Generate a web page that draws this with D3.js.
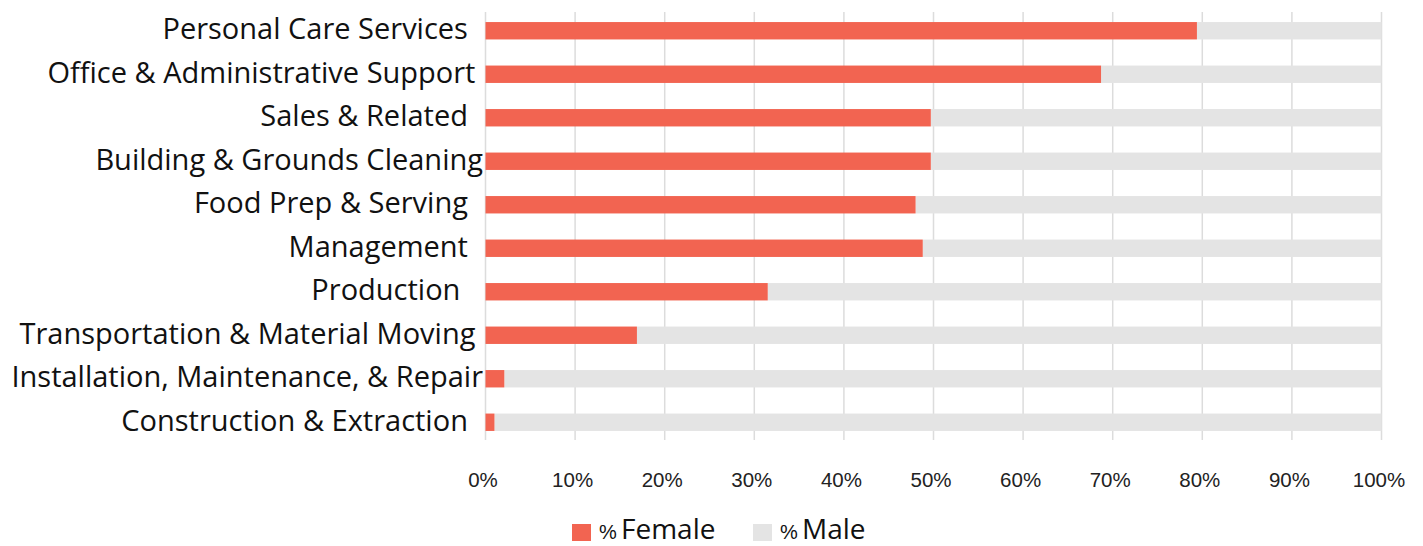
<!DOCTYPE html>
<html>
<head>
<meta charset="utf-8">
<script src="https://cdn.jsdelivr.net/npm/d3@7"></script>
<style>
    body { margin: 0; background: #fff; }
    svg { display: block; }
    .label { font-family: "Open Sans", sans-serif; font-size: 29px; fill: #111; white-space: pre; }
    .tick text { font-family: "Liberation Sans", Arial, sans-serif; font-size: 20.5px; fill: #222; }
</style>
</head>
<body>
<svg id="chart" width="1423" height="546"></svg>
<script>
// occupations, top to bottom (trailing spaces as in the original labels)
const categories = [
    "Personal Care Services  ",
    "Office & Administrative Support ",
    "Sales & Related  ",
    "Building & Grounds Cleaning",
    "Food Prep & Serving  ",
    "Management  ",
    "Production   ",
    "Transportation & Material Moving ",
    "Installation, Maintenance, & Repair",
    "Construction & Extraction  "
];
const female = [79.4, 68.7, 49.7, 49.7, 48.0, 48.8, 31.5, 16.9, 2.1, 1.0];
const male = female.map(v => 100 - v);
const ticks = [0, 10, 20, 30, 40, 50, 60, 70, 80, 90, 100];
const seriesNames = ["Female", "Male"];
const colors = ["#f26451", "#e4e4e4"];

const svg = d3.select("#chart");
const margin = {left: 485.5, right: 41.5, top: 9, bottom: 102};
const width = 1423 - margin.left - margin.right,
    height = 546 - margin.top - margin.bottom;

const g = svg.append("g").attr("transform", `translate(${margin.left},${margin.top})`);

const x = d3.scaleLinear().domain([0, 100]).range([0, width]);
const y = d3.scaleBand().domain(categories).range([0, height]).paddingInner(0.6).paddingOuter(0.3);

// gridlines
g.append("g")
    .selectAll("line")
    .data(ticks)
    .enter().append("line")
    .attr("x1", d => x(d)).attr("x2", d => x(d))
    .attr("y1", 3).attr("y2", 431)
    .attr("stroke", "#dcdcdc")
    .attr("stroke-width", 1.5);

// stacked bars
const rows = categories.map((c, i) => ({cat: c, f: female[i], m: male[i]}));
g.append("g").selectAll("rect")
    .data(rows).enter().append("rect")
    .attr("x", d => x(d.f))
    .attr("width", d => x(100) - x(d.f))
    .attr("y", d => y(d.cat))
    .attr("height", y.bandwidth())
    .attr("fill", colors[1]);
g.append("g").selectAll("rect")
    .data(rows).enter().append("rect")
    .attr("x", x(0))
    .attr("width", d => x(d.f) - x(0))
    .attr("y", d => y(d.cat))
    .attr("height", y.bandwidth())
    .attr("fill", colors[0]);

// category labels
g.append("g").selectAll("text")
    .data(categories).enter().append("text")
    .attr("class", "label")
    .attr("x", -2.5)
    .attr("y", d => y(d) + y.bandwidth() / 2)
    .attr("dy", "0.3em")
    .attr("text-anchor", "end")
    .text(d => d);

// x axis
const xAxis = d3.axisBottom(x).tickValues(ticks).tickSize(0).tickPadding(0).tickFormat(d => d + "%");
g.append("g")
    .attr("transform", `translate(-3,${height + 28})`)
    .call(xAxis)
    .call(a => a.select(".domain").remove());

// legend
const legend = svg.append("g").attr("transform", "translate(572,522)");
const items = [{name: seriesNames[0], color: colors[0], x: 0}, {name: seriesNames[1], color: colors[1], x: 181}];
items.forEach(it => {
    const lg = legend.append("g").attr("transform", `translate(${it.x},0)`);
    lg.append("rect").attr("y", 2).attr("width", 19).attr("height", 17).attr("fill", it.color);
    lg.append("text").attr("x", 27).attr("y", 17)
        .attr("font-family", "'Liberation Sans', Arial, sans-serif").attr("font-size", 20)
        .attr("fill", "#111").text("%");
    lg.append("text").attr("x", 49).attr("y", 17)
        .attr("font-family", "'Open Sans', sans-serif").attr("font-size", 28)
        .attr("fill", "#111").text(it.name);
});
</script>
</body>
</html>
